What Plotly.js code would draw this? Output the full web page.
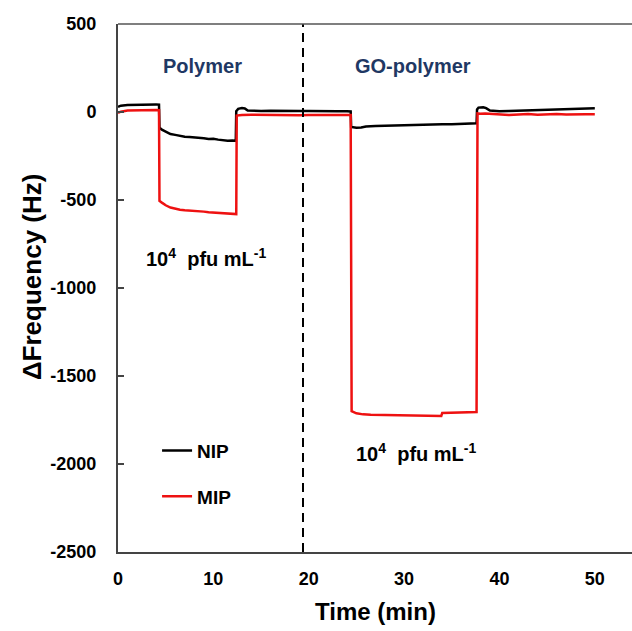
<!DOCTYPE html>
<html>
<head>
<meta charset="utf-8">
<script src="https://cdn.plot.ly/plotly-3.0.1.min.js"></script>
<style>html,body{margin:0;padding:0;background:#fff;}#chart{width:632px;height:631px;}</style>
</head>
<body>
<div id="chart"></div>
<script>
// NIP (black) trace
const nipTime = [0,0.3,1,2,3,4,4.3,4.35,4.6,5,5.5,6,6.5,7,7.5,8,8.5,9,9.5,10,10.5,11,11.5,12,12.35,12.4,12.6,13,13.3,13.6,14,15,16,17,18,19,20,21,22,23,24,24.4,24.45,25,25.5,26,27,28,29,30,31,32,33,34,35,36,37,37.6,37.65,37.8,38.3,38.6,39,40,41,42,43,44,45,46,47,48,49,50];
const nipFreq = [30,36,40,42,43,43,42,-90,-100,-112,-125,-130,-136,-140,-142,-143,-146,-149,-153,-152,-157,-161,-163,-162,-163,5,18,22,20,8,7,6,7,5,6,5,6,4,5,4,4,3,-85,-89,-88,-82,-80,-78,-76,-74,-72,-73,-70,-69,-70,-67,-65,-64,15,25,27,22,8,4,5,7,9,10,12,14,16,18,20,21];
// MIP (red) trace
const mipTime = [0,0.3,1,2,3,4,4.3,4.35,4.6,5,5.5,6,6.5,7,7.5,8,8.5,9,9.5,10,10.5,11,11.5,12,12.4,12.45,13,14,15,16,17,18,19,20,21,22,23,24,24.4,24.5,25,25.7,26.5,27.5,28.5,29.2,30,31,32,32.7,33.5,33.9,34,35,36,37,37.6,37.7,38,38.5,39,40,41,42,43,44,45,46,47,48,49,50];
const mipFreq = [-5,2,8,10,11,11,10,-505,-515,-530,-543,-550,-555,-558,-560,-562,-560,-566,-570,-572,-575,-578,-580,-578,-580,-20,-17,-16,-17,-18,-17,-18,-18,-17,-18,-17,-16,-17,-17,-1700,-1712,-1718,-1720,-1721,-1722,-1722,-1724,-1725,-1725,-1727,-1727,-1727,-1710,-1709,-1708,-1706,-1705,-8,-10,-8,-10,-12,-17,-14,-12,-15,-13,-12,-14,-12,-13,-13];

const seriesNames = ['NIP', 'MIP'];
const xTicks = [0, 10, 20, 30, 40, 50];
const yTicks = [500, 0, -500, -1000, -1500, -2000, -2500];
const yTickText = ['500', '0', '-500', '-1000', '-1500', '-2000', '-2500'];
const dividerTime = 19.4;
const regionLabels = ['Polymer', 'GO-polymer'];
const concLabel = '10<sup>4</sup>  pfu mL<sup>-1</sup>';

const FAM = 'Liberation Sans, Arial, sans-serif';
function bf(size, color) { return {family: FAM, weight: 'bold', size: size, color: color || '#000'}; }

const traces = [
  {x: nipTime, y: nipFreq, name: seriesNames[0], mode: 'lines', legendgroup: 'a',
   line: {color: '#000000', width: 2.5}},
  {x: mipTime, y: mipFreq, name: seriesNames[1], mode: 'lines', legendgroup: 'b',
   line: {color: '#ee1111', width: 2.5}}
];

const layout = {
  width: 632, height: 631,
  margin: {l: 118, r: 0, t: 24, b: 79},
  paper_bgcolor: '#fff', plot_bgcolor: '#fff',
  showlegend: true,
  legend: {x: 0.076, y: 0.228, xanchor: 'left', yanchor: 'top', bgcolor: 'rgba(0,0,0,0)',
           font: bf(19), tracegroupgap: 18, itemwidth: 30},
  xaxis: {range: [0, 53.9], tickvals: xTicks, ticks: '', showgrid: false, zeroline: false,
          showline: true, linecolor: '#444', linewidth: 2, ticklabelstandoff: 9,
          tickfont: bf(18)},
  yaxis: {range: [-2500, 500], tickvals: yTicks, ticktext: yTickText, ticks: 'inside', ticklen: 6,
          tickcolor: '#444', tickwidth: 1.5,
          showgrid: false, zeroline: false, showline: true, linecolor: '#444', linewidth: 2,
          ticklabelstandoff: 16, tickfont: bf(18)},
  shapes: [
    {type: 'line', xref: 'x', yref: 'paper', x0: dividerTime, x1: dividerTime, y0: 0, y1: 1,
     line: {color: '#000', width: 2, dash: '9px,6px'}},
    {type: 'line', xref: 'paper', yref: 'paper', x0: 0, x1: 1, y0: 1, y1: 1,
     line: {color: '#555', width: 1.5}}
  ],
  annotations: [
    {x: 8.9, y: 261, xref: 'x', yref: 'y', text: regionLabels[0], showarrow: false,
     xanchor: 'center', yanchor: 'middle', font: bf(20, '#1f3864')},
    {x: 30.9, y: 261, xref: 'x', yref: 'y', text: regionLabels[1], showarrow: false,
     xanchor: 'center', yanchor: 'middle', font: bf(20, '#1f3864')},
    {x: 9.2, y: -824, xref: 'x', yref: 'y', text: concLabel, showarrow: false,
     xanchor: 'center', yanchor: 'middle', font: bf(20)},
    {x: 31.2, y: -1937, xref: 'x', yref: 'y', text: concLabel, showarrow: false,
     xanchor: 'center', yanchor: 'middle', font: bf(20)},
    {x: -0.167, y: 0.521, xref: 'paper', yref: 'paper', text: 'ΔFrequency (Hz)', textangle: -90,
     xanchor: 'center', yanchor: 'middle', showarrow: false, font: bf(26)},
    {x: 0.5, y: -0.1136, xref: 'paper', yref: 'paper', text: 'Time (min)',
     xanchor: 'center', yanchor: 'middle', showarrow: false, font: bf(24)}
  ]
};

Plotly.newPlot('chart', traces, layout, {displayModeBar: false, staticPlot: true});
</script>
</body>
</html>
